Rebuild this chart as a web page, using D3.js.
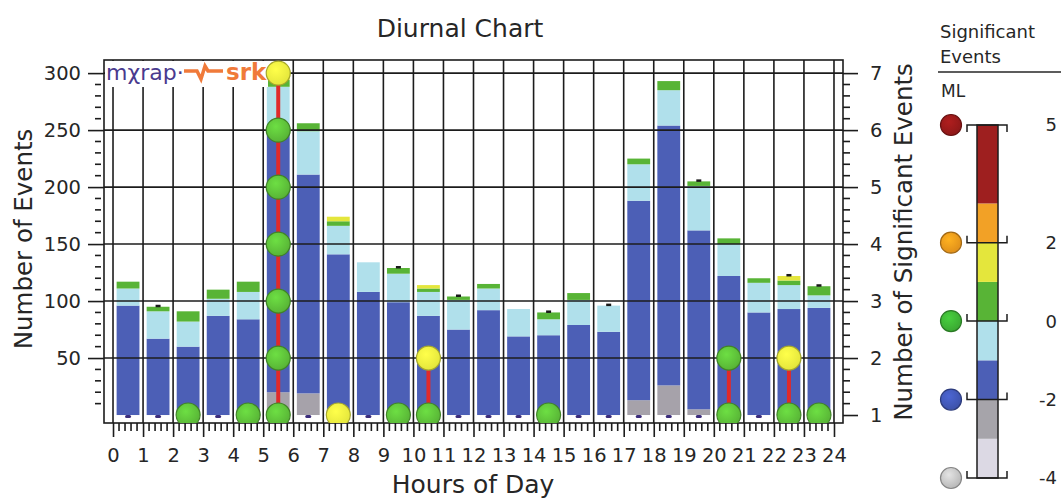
<!DOCTYPE html>
<html lang="en">
<head>
<meta charset="UTF-8">
<title>Diurnal Chart</title>
<script src="https://cdn.jsdelivr.net/npm/d3@7"></script>
<style>
  body { margin: 0; background: #fff; }
  text { font-family: "DejaVu Sans", Verdana, sans-serif; fill: #262626; }
</style>
</head>
<body>
<svg id="chart"></svg>
<script>
const width = 1061, height = 500;

// ---- data ----
const hours = d3.range(24);
// events per hour, split by magnitude band (bottom to top)
const grayCounts      = [0, 0, 0, 0, 0, 20, 19, 0, 0, 0, 0, 0, 0, 0, 0, 0, 0, 13, 26, 5, 0, 0, 0, 0];
const blueCounts      = [96, 67, 60, 87, 84, 231, 192, 141, 108, 99, 87, 75, 92, 69, 70, 79, 73, 175, 228, 157, 122, 90, 93, 94];
const lightBlueCounts = [15, 24, 22, 15, 24, 37, 38, 25, 26, 25, 21, 26, 19, 24, 14, 22, 23, 32, 31, 39, 28, 26, 21, 11];
const greenCounts     = [6, 4, 9, 8, 9, 6, 7, 4, 0, 5, 3, 3, 4, 0, 6, 6, 0, 5, 8, 4, 5, 4, 4, 8];
const yellowCounts    = [0, 0, 0, 0, 0, 3, 0, 4, 0, 0, 3, 0, 0, 0, 0, 0, 0, 0, 0, 0, 0, 0, 4, 0];
// hours that carry a tiny mark on top of the bar
const topMarkHours = [1, 9, 11, 14, 16, 19, 22, 23];
// significant events: hour and magnitudes (stacked 1, 2, 3 ...)
const sigHours = [2, 4, 5, 7, 9, 10, 14, 20, 22, 23];
const sigMl = [
  [0.5], [0.5],
  [0.5, 0.5, 0.5, 0.5, 0.5, 0.5, 1.5],
  [1.5], [0.5], [0.5, 1.5], [0.5], [0.5, 0.5], [0.5, 1.5], [0.5]
];
const leftTicks = [50, 100, 150, 200, 250, 300];
const rightTicks = [1, 2, 3, 4, 5, 6, 7];
const hourTicks = d3.range(0, 25);
// legend
const mlBreaks = [-4, -3, -2, -1, 0, 1, 2, 3, 5];
const mlColors = ["#dcd9e4", "#a6a4aa", "#4c5fb6", "#b0e0eb", "#58b436", "#e4e63c", "#f2a126", "#9e1f1f"];
const legendMarks = [5, 2, 0, -2, -4];
const legendDots = ["#8e1818", "#e0901a", "#3aa832", "#3d52aa", "#b8b8b8"];

const keys = ["gray", "blue", "lightblue", "green", "yellow"];
const keyColor = { gray: "#a6a2aa", blue: "#4c5fb6", lightblue: "#b0e0eb", green: "#58b436", yellow: "#e4e63c" };
const table = hours.map(h => ({
  hour: h, gray: grayCounts[h], blue: blueCounts[h], lightblue: lightBlueCounts[h],
  green: greenCounts[h], yellow: yellowCounts[h]
}));

const svg = d3.select("#chart").attr("width", width).attr("height", height);
const L = 104, R = 843, T = 60, B = 423;

const x = d3.scaleLinear().domain([-0.3, 24.3]).range([L, R]);
const y = d3.scaleLinear().domain([-7, 311.5]).range([B, T]);
const ySig = d3.scaleLinear().domain([1 - 7 / 50, 1 + 311.5 / 50]).range([B, T]);
const mlColor = d3.scaleThreshold().domain(mlBreaks.slice(1, -1)).range(mlColors);

const defs = svg.append("defs");
defs.append("clipPath").attr("id", "plotClip")
  .append("rect").attr("x", L).attr("y", T).attr("width", R - L).attr("height", B - T);
function gradFor(c) {
  const id = "g" + c.replace("#", "");
  if (defs.select("#" + id).empty()) {
    const g = defs.append("radialGradient").attr("id", id).attr("cx", "40%").attr("cy", "35%").attr("r", "65%");
    g.append("stop").attr("offset", "0%").attr("stop-color", d3.color(c).brighter(0.6));
    g.append("stop").attr("offset", "100%").attr("stop-color", c);
  }
  return "url(#" + id + ")";
}

// ---- stacked bars ----
const stacked = d3.stack().keys(keys)(table);
const bw = (x(1) - x(0)) * 0.76;
svg.append("g").selectAll("g").data(stacked).join("g")
    .attr("fill", d => keyColor[d.key])
  .selectAll("rect").data(d => d.filter(s => s[1] > s[0])).join("rect")
    .attr("x", d => x(d.data.hour + 0.5) - bw / 2)
    .attr("y", d => y(d[1]))
    .attr("width", bw)
    .attr("height", d => y(d[0]) - y(d[1]));

// small marks at bar bottom and top
svg.append("g").selectAll("rect").data(hours).join("rect")
    .attr("x", h => x(h + 0.5) - 3).attr("y", y(0)).attr("width", 6).attr("height", 3)
    .attr("rx", 1.5).attr("fill", "#3b2c7c");
svg.append("g").selectAll("rect").data(topMarkHours).join("rect")
    .attr("x", h => x(h + 0.5) - 2.5)
    .attr("y", h => y(d3.sum(keys, k => table[h][k])) - 2)
    .attr("width", 5).attr("height", 2.5).attr("fill", "#1a1a1a");

// ---- grid ----
const grid = svg.append("g").attr("stroke", "#1c1c1c").attr("stroke-width", 1.6);
grid.selectAll("line.h").data(leftTicks).join("line").attr("class", "h")
    .attr("x1", L).attr("x2", R).attr("y1", d => y(d)).attr("y2", d => y(d));
grid.selectAll("line.v").data(hourTicks).join("line").attr("class", "v")
    .attr("x1", d => x(d)).attr("x2", d => x(d)).attr("y1", T).attr("y2", B);
svg.append("rect").attr("x", L).attr("y", T).attr("width", R - L).attr("height", B - T)
    .attr("fill", "none").attr("stroke", "#1c1c1c").attr("stroke-width", 1.6);

// ---- axes ----
const leftAxis = svg.append("g").attr("transform", `translate(${L},0)`)
    .call(d3.axisLeft(y).tickValues(leftTicks).tickSize(16).tickPadding(7));
const rightAxis = svg.append("g").attr("transform", `translate(${R},0)`)
    .call(d3.axisRight(ySig).tickValues(rightTicks).tickFormat(d3.format("d")).tickSize(15).tickPadding(12));
const bottomAxis = svg.append("g").attr("transform", `translate(0,${B})`)
    .call(d3.axisBottom(x).tickValues(hourTicks).tickSize(14).tickPadding(11));
[leftAxis, rightAxis, bottomAxis].forEach(a => {
  a.select(".domain").remove();
  a.selectAll(".tick line").attr("stroke", "#1c1c1c").attr("stroke-width", 1.6);
  a.selectAll(".tick text").attr("fill", "#262626").style("font-size", "19.5px")
    .style("font-family", '"DejaVu Sans", Verdana, sans-serif');
});

const minorY = d3.range(10, 300, 10).filter(v => v % 50 !== 0);
svg.append("g").attr("stroke", "#1c1c1c").attr("stroke-width", 1.6)
  .selectAll("line").data(minorY).join("line")
    .attr("x1", L - 9).attr("x2", L - 3).attr("y1", d => y(d)).attr("y2", d => y(d));
const minorS = d3.range(1, 7, 0.2).map(v => +v.toFixed(1)).filter(v => v % 1 !== 0);
svg.append("g").attr("stroke", "#1c1c1c").attr("stroke-width", 1.6)
  .selectAll("line").data(minorS).join("line")
    .attr("x1", R).attr("x2", R + 7).attr("y1", d => ySig(d)).attr("y2", d => ySig(d));
const minorX = d3.range(0, 24, 0.2).map(v => +v.toFixed(1)).filter(v => v % 1 !== 0);
svg.append("g").attr("stroke", "#1c1c1c").attr("stroke-width", 1.6)
  .selectAll("line").data(minorX).join("line")
    .attr("x1", d => x(d)).attr("x2", d => x(d)).attr("y1", B).attr("y2", B + 8);

// ---- titles ----
svg.append("text").attr("x", 460).attr("y", 37).attr("text-anchor", "middle")
    .style("font-size", "25px").text("Diurnal Chart");
svg.append("text").attr("x", 473).attr("y", 493).attr("text-anchor", "middle")
    .style("font-size", "25px").text("Hours of Day");
svg.append("text").attr("transform", "translate(32,239) rotate(-90)").attr("text-anchor", "middle")
    .style("font-size", "24.5px").text("Number of Events");
svg.append("text").attr("transform", "translate(912,242) rotate(-90)").attr("text-anchor", "middle")
    .style("font-size", "24.5px").text("Number of Significant Events");

// ---- logo ----
const logo = svg.append("g");
logo.append("rect").attr("x", L + 1).attr("y", T + 1).attr("width", 163).attr("height", 26).attr("fill", "#fff");
logo.append("text").attr("x", 106).attr("y", 80).style("font-size", "22px").style("fill", "#4a3a8e").text("mχrap·");
logo.append("path").attr("d", "M184,71H197L201,79L205,66L208,71H223")
    .attr("fill", "none").attr("stroke", "#f07a3a").attr("stroke-width", 3.5);
logo.append("text").attr("x", 226).attr("y", 80).style("font-size", "23px").style("font-weight", "bold")
    .style("fill", "#f07a3a").text("srk");

// ---- significant events ----
const sig = sigHours.map((h, i) => ({ hour: h, ml: sigMl[i] }));
svg.append("g").selectAll("line").data(sig.filter(d => d.ml.length > 1)).join("line")
    .attr("x1", d => x(d.hour + 0.5)).attr("x2", d => x(d.hour + 0.5))
    .attr("y1", ySig(1)).attr("y2", d => ySig(d.ml.length))
    .attr("stroke", "#e02a2a").attr("stroke-width", 4);
const dots = sig.flatMap(d => d.ml.map((m, i) => ({ hour: d.hour, n: i + 1, ml: m })));
svg.append("g").attr("clip-path", "url(#plotClip)")
  .selectAll("circle").data(dots).join("circle")
    .attr("cx", d => x(d.hour + 0.5)).attr("cy", d => ySig(d.n)).attr("r", 12)
    .attr("fill", d => gradFor(mlColor(d.ml)))
    .attr("stroke", d => d3.color(mlColor(d.ml)).darker(0.9)).attr("stroke-width", 1.2);

// ---- legend ----
const yL = d3.scaleLinear().domain([5, -4]).range([125, 478]);
const lg = svg.append("g");
lg.append("text").attr("x", 940).attr("y", 38).style("font-size", "18px").text("Significant");
lg.append("text").attr("x", 940).attr("y", 63).style("font-size", "18px").text("Events");
lg.append("line").attr("x1", 938).attr("x2", 1061).attr("y1", 72).attr("y2", 72)
    .attr("stroke", "#262626").attr("stroke-width", 1.5);
lg.append("text").attr("x", 941).attr("y", 97).style("font-size", "17px").text("ML");
const bands = mlColors.map((c, i) => ({ lo: mlBreaks[i], hi: mlBreaks[i + 1], c }));
lg.selectAll("rect.band").data(bands).join("rect").attr("class", "band")
    .attr("x", 977).attr("width", 21)
    .attr("y", d => yL(d.hi)).attr("height", d => yL(d.lo) - yL(d.hi))
    .attr("fill", d => d.c);
lg.append("rect").attr("x", 977).attr("width", 21).attr("y", yL(5)).attr("height", yL(-4) - yL(5))
    .attr("fill", "none").attr("stroke", "#1c1c1c").attr("stroke-width", 1.5);
lg.selectAll("path.br").data(legendMarks).join("path").attr("class", "br")
    .attr("d", (v, i) => {
      const yy = yL(v), e = i === 0 ? 7 : -7;
      return `M967,${yy + e}V${yy}H1007V${yy + e}`;
    })
    .attr("fill", "none").attr("stroke", "#1c1c1c").attr("stroke-width", 1.5);
lg.selectAll("circle").data(legendMarks).join("circle")
    .attr("cx", 951).attr("cy", v => yL(v)).attr("r", 10.5)
    .attr("fill", (v, i) => gradFor(legendDots[i]))
    .attr("stroke", (v, i) => d3.color(legendDots[i]).darker(0.9)).attr("stroke-width", 1.2);
lg.selectAll("text.ml").data(legendMarks).join("text").attr("class", "ml")
    .attr("x", 1057).attr("y", v => yL(v)).attr("dy", "0.36em").attr("text-anchor", "end")
    .style("font-size", "18px").text(v => v);
</script>
</body>
</html>
